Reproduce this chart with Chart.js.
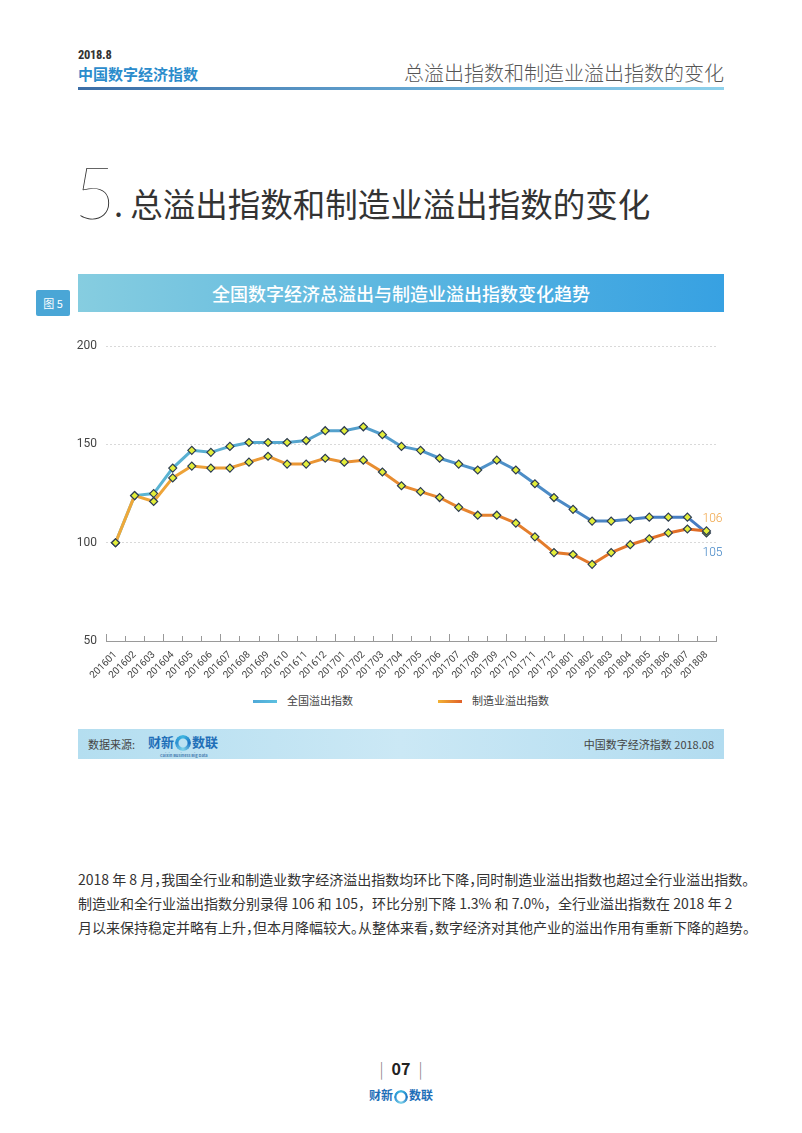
<!DOCTYPE html>
<html lang="zh">
<head>
<meta charset="utf-8">
<title>总溢出指数和制造业溢出指数的变化</title>
<script src="https://cdn.jsdelivr.net/npm/chart.js@4/dist/chart.umd.min.js"></script>
<style>
  html, body { margin: 0; padding: 0; background: #fff; }
  body { width: 802px; height: 1133px; position: relative; overflow: hidden;
         font-family: "Noto Sans CJK SC", "Noto Sans", sans-serif; color: #333; }
  .abs { position: absolute; }
  #hdr-year { left: 78px; top: 47px; font: bold 12.5px "Roboto Condensed", Roboto, sans-serif; color: #333; letter-spacing: -0.3px; }
  #hdr-name { left: 78px; top: 63px; font-size: 15px; font-weight: bold; color: #2b8ccc; }
  #hdr-title { right: 78px; top: 58px; font-size: 20px; font-weight: 300; color: #555; }
  #hdr-line { left: 78px; top: 87px; width: 646px; height: 3px;
              background: linear-gradient(to right, #3b6da6, #6aaed8 60%, #8fd2ec); }
  #big-num { left: 74px; top: 148px; font: 200 72px Lato, "Noto Sans", sans-serif; color: #333; }
  #big-title { left: 114px; top: 179px; font-size: 32.5px; font-weight: 400; color: #333; }
  #tag { left: 36px; top: 290px; width: 34px; height: 26px; background: #4aa6d6; color: #fff;
         font-size: 11px; line-height: 26px; text-align: center; border-radius: 2px; }
  #banner { left: 78px; top: 274px; width: 646px; height: 38px; color: #fff; font-size: 18px;
            line-height: 38px; text-align: center; font-weight: 500;
            background: linear-gradient(to right, #86cde0, #5bb6e0 50%, #37a1e2); }
  #chart-box { left: 60px; top: 330px; width: 680px; height: 360px; }
  .leg { top: 692px; font-size: 11px; color: #444; line-height: 16px; }
  .leg i { display: inline-block; width: 24px; height: 3px; vertical-align: middle; margin-right: 10px; margin-top: -2px; }
  #leg1 { left: 253px; }
  #leg1 i { background: linear-gradient(to right, #4fa9d8, #5cc0e0); }
  #leg2 { left: 438px; }
  #leg2 i { background: linear-gradient(to right, #f2b233, #e0602a); }
  #src { left: 78px; top: 729px; width: 646px; height: 30px;
         background: linear-gradient(to right, #b4def0, #cbe8f5 50%, #b2dcf0); }
  #src-l { left: 10px; top: 7px; font-size: 11px; color: #444; }
  #src-logo { left: 70px; top: 3px; font-size: 13px; font-weight: bold; color: #1f6fb8; }
  .ring { display: inline-block; width: 16px; height: 16px; border-radius: 50%; vertical-align: middle;
          background: conic-gradient(#3fb6e0, #1a73c4, #7fd3ea, #2a8fd2, #3fb6e0);
          -webkit-mask: radial-gradient(circle, transparent 4px, #000 5px);
          mask: radial-gradient(circle, transparent 4px, #000 5px); margin: 0 1px; }
  .sub { position: absolute; font-size: 4px; color: #4a7fb0; white-space: nowrap; }
  #src-r { right: 10px; top: 7px; font-size: 11px; color: #444; }
  .par { left: 78px; width: 646px; font-size: 14px; line-height: 24px; color: #333; white-space: nowrap;
         text-align: justify; text-align-last: justify; }
  .halt { font-feature-settings: "halt"; }
  #pg { left: 0; width: 802px; top: 1056px; text-align: center; font-size: 16px; font-weight: bold; color: #222; }
  #pg span { font-weight: 300; color: #777; margin: 0 8px; }
  #pg-logo { left: 0; width: 802px; top: 1086px; text-align: center; font-size: 12px; font-weight: bold; color: #1f6fb8; }
</style>
</head>
<body>
<div class="abs" id="hdr-year">2018.8</div>
<div class="abs" id="hdr-name">中国数字经济指数</div>
<div class="abs" id="hdr-title">总溢出指数和制造业溢出指数的变化</div>
<div class="abs" id="hdr-line"></div>

<div class="abs" id="big-num">5</div>
<div class="abs" id="big-title">. 总溢出指数和制造业溢出指数的变化</div>

<div class="abs" id="tag">图 5</div>
<div class="abs" id="banner">全国数字经济总溢出与制造业溢出指数变化趋势</div>

<div class="abs" id="chart-box"><canvas id="grafico" width="680" height="360"></canvas></div>

<div class="abs leg" id="leg1"><i></i>全国溢出指数</div>
<div class="abs leg" id="leg2"><i></i>制造业溢出指数</div>

<div class="abs" id="src">
  <div class="abs" id="src-l">数据来源:</div>
  <div class="abs" id="src-logo">财新<span class="ring"></span>数联<div class="sub" style="left:12px;top:20px;">Caixin Business Big Data</div></div>
  <div class="abs" id="src-r">中国数字经济指数 2018.08</div>
</div>

<div class="abs par halt" style="top:867px;">2018 年 8 月，我国全行业和制造业数字经济溢出指数均环比下降，同时制造业溢出指数也超过全行业溢出指数。</div>
<div class="abs par" style="top:891px;">制造业和全行业溢出指数分别录得 106 和 105，环比分别下降 1.3% 和 7.0%，全行业溢出指数在 2018 年 2</div>
<div class="abs par halt" style="top:915px;">月以来保持稳定并略有上升，但本月降幅较大。从整体来看，数字经济对其他产业的溢出作用有重新下降的趋势。</div>

<div class="abs" id="pg"><span>|</span>07<span>|</span></div>
<div class="abs" id="pg-logo">财新<span class="ring" style="width:14px;height:14px"></span>数联</div>

<script>
document.addEventListener('DOMContentLoaded', function () {

    // datos
    const meses = ['201601', '201602', '201603', '201604', '201605', '201606', '201607', '201608',
        '201609', '201610', '201611', '201612', '201701', '201702', '201703', '201704',
        '201705', '201706', '201707', '201708', '201709', '201710', '201711', '201712',
        '201801', '201802', '201803', '201804', '201805', '201806', '201807', '201808'];
    const indiceNacional = [100, 124, 125, 138, 147, 146, 149, 151, 151, 151, 152, 157,
        157, 159, 155, 149, 147, 143, 140, 137, 142, 137, 130, 123,
        117, 111, 111, 112, 113, 113, 113, 105];
    const indiceManufactura = [100, 124, 121, 133, 139, 138, 138, 141, 144, 140, 140, 143,
        141, 142, 136, 129, 126, 123, 118, 114, 114, 110, 103, 95,
        94, 89, 95, 99, 102, 105, 107, 106];
    const ticksY = [50, 100, 150, 200];

    function degradado(c1, c2) {
        return function (context) {
            const chart = context.chart;
            const area = chart.chartArea;
            if (!area) return c1;
            const g = chart.ctx.createLinearGradient(area.left, 0, area.right, 0);
            g.addColorStop(0, c1);
            g.addColorStop(1, c2);
            return g;
        };
    }

    // marcas cortas del eje x y etiquetas finales
    const extras = {
        id: 'extras',
        afterDatasetsDraw(chart) {
            const ctx = chart.ctx;
            const x = chart.scales.x;
            const y = chart.scales.y;
            const paso = x.getPixelForValue(1) - x.getPixelForValue(0);
            ctx.save();
            ctx.strokeStyle = '#999';
            ctx.lineWidth = 1;
            for (let i = 0; i <= meses.length; i++) {
                const px = Math.round(x.getPixelForValue(i) - paso / 2) + 0.5;
                ctx.beginPath();
                ctx.moveTo(px, y.bottom);
                ctx.lineTo(px, y.bottom - (i % 3 === 0 ? 7 : 5));
                ctx.stroke();
            }
            const ult = meses.length - 1;
            const px = x.getPixelForValue(ult);
            ctx.font = '300 12px Roboto, sans-serif';
            ctx.textAlign = 'left';
            ctx.textBaseline = 'middle';
            ctx.fillStyle = '#f0a445';
            ctx.fillText(String(indiceManufactura[ult]), px - 4, y.getPixelForValue(indiceManufactura[ult]) - 12);
            ctx.fillStyle = '#3d82c4';
            ctx.fillText(String(indiceNacional[ult]), px - 4, y.getPixelForValue(indiceNacional[ult]) + 20);
            ctx.restore();
        }
    };

    const ctx = document.getElementById('grafico').getContext('2d');
    new Chart(ctx, {
        type: 'line',
        data: {
            labels: meses,
            datasets: [
                {
                    label: '制造业溢出指数',
                    data: indiceManufactura,
                    borderColor: degradado('#efaa3a', '#df6a26'),
                    borderWidth: 3,
                    pointStyle: 'rectRot',
                    pointRadius: 4,
                    pointBackgroundColor: '#e2ee3a',
                    pointBorderColor: '#2c3b52',
                    pointBorderWidth: 1.2,
                    tension: 0
                },
                {
                    label: '全国溢出指数',
                    data: indiceNacional,
                    borderColor: degradado('#5cb9d4', '#4679c0'),
                    borderWidth: 3,
                    pointStyle: 'rectRot',
                    pointRadius: 4,
                    pointBackgroundColor: '#e2ee3a',
                    pointBorderColor: '#2c3b52',
                    pointBorderWidth: 1.2,
                    tension: 0
                }
            ]
        },
        options: {
            responsive: false,
            animation: false,
            devicePixelRatio: 1,
            layout: { padding: { top: 13, right: 24, left: 0, bottom: 0 } },
            plugins: {
                legend: { display: false },
                tooltip: { enabled: false }
            },
            scales: {
                x: {
                    offset: true,
                    grid: { display: false, drawTicks: false },
                    border: { display: true, color: '#9a9a9a', width: 1 },
                    ticks: {
                        autoSkip: false,
                        maxRotation: 45,
                        minRotation: 45,
                        padding: 8,
                        color: '#444',
                        font: { family: 'Roboto, sans-serif', size: 10 }
                    },
                    afterFit(scale) { scale.height = 49; }
                },
                y: {
                    min: 50,
                    max: 200,
                    afterBuildTicks(scale) { scale.ticks = ticksY.map(v => ({ value: v })); },
                    grid: { color: '#d9d9d9', lineWidth: 1, drawTicks: false },
                    border: { display: false, dash: [2, 2] },
                    ticks: {
                        padding: 9,
                        color: '#444',
                        font: { family: 'Roboto, sans-serif', size: 12 }
                    },
                    afterFit(scale) { scale.width = 46; }
                }
            }
        },
        plugins: [extras]
    });
});
</script>
</body>
</html>
